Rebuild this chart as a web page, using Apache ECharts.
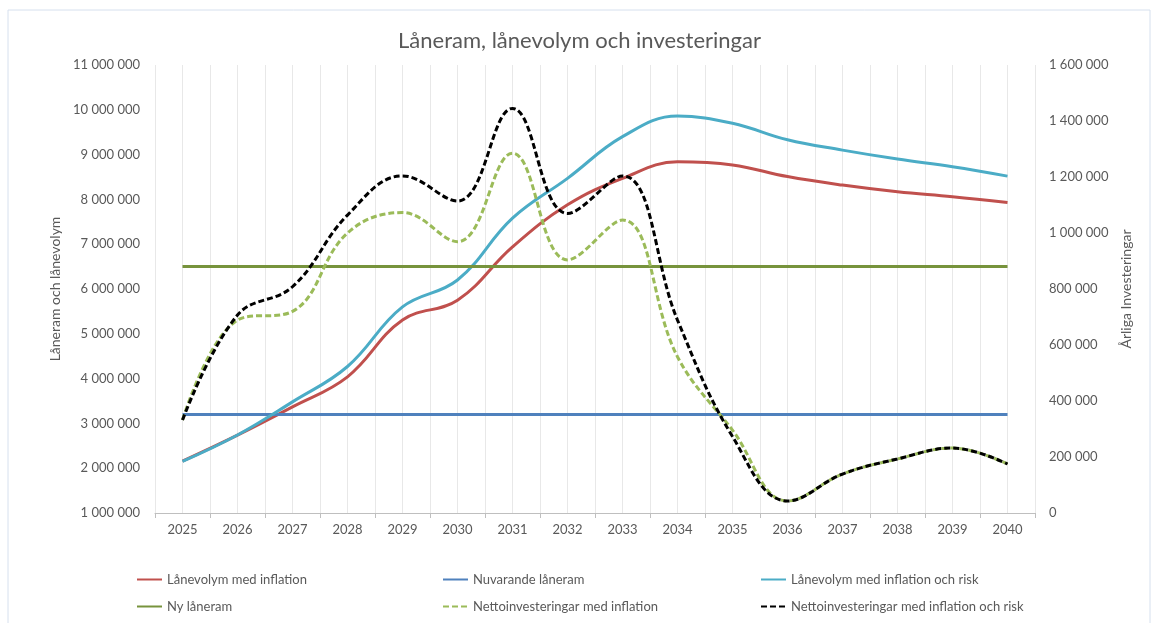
<!DOCTYPE html>
<html>
<head>
<meta charset="utf-8">
<script src="https://cdn.jsdelivr.net/npm/echarts@6/dist/echarts.min.js"></script>
<style>
  html, body { margin: 0; padding: 0; background: #fff; }
  #main { width: 1159px; height: 623px; }
</style>
</head>
<body>
<div id="main"></div>
<script>
// år
var years = ['2025', '2026', '2027', '2028', '2029', '2030', '2031', '2032',
  '2033', '2034', '2035', '2036', '2037', '2038', '2039', '2040']

// vänster axel (låneram / lånevolym)
var lanevolymInfl = [2160000, 2740000, 3370000, 4040000, 5310000, 5750000, 6940000, 7880000,
  8470000, 8840000, 8770000, 8510000, 8320000, 8170000, 8060000, 7930000]
var nuvarandeLaneram = [3200000, 3200000, 3200000, 3200000, 3200000, 3200000, 3200000, 3200000,
  3200000, 3200000, 3200000, 3200000, 3200000, 3200000, 3200000, 3200000]
var lanevolymRisk = [2150000, 2740000, 3480000, 4270000, 5600000, 6200000, 7580000, 8470000,
  9400000, 9860000, 9700000, 9330000, 9100000, 8900000, 8730000, 8520000]
var nyLaneram = [6500000, 6500000, 6500000, 6500000, 6500000, 6500000, 6500000, 6500000,
  6500000, 6500000, 6500000, 6500000, 6500000, 6500000, 6500000, 6500000]

// höger axel (årliga investeringar)
var nettoInfl = [332000, 689000, 720000, 1000000, 1073000, 969000, 1285000, 904000,
  1046000, 558000, 296000, 43000, 139000, 193000, 232000, 175000]
var nettoRisk = [332000, 707000, 808000, 1064000, 1204000, 1114000, 1445000, 1070000,
  1204000, 689000, 273000, 43000, 139000, 193000, 232000, 175000]

var txt = '#595959'
var font = 'Lato, "Open Sans", sans-serif'

function fmt(v) {
  return String(v).replace(/\B(?=(\d{3})+(?!\d))/g, ' ')
}

var chart = echarts.init(document.getElementById('main'))

// gemensam stil för de tre legendkolumnerna
function legendCol(left, names) {
  return {
    left: left, top: 568, orient: 'vertical',
    itemWidth: 25, itemHeight: 14, itemGap: 14,
    itemStyle: { opacity: 0 },   // bara linjen, ingen cirkel
    textStyle: { color: txt, fontSize: 13 },
    data: names
  }
}

var option = {
  backgroundColor: '#fff',
  textStyle: { fontFamily: font },
  title: {
    text: 'Låneram, lånevolym och investeringar',
    left: 'center',
    top: 25,
    textStyle: { color: txt, fontSize: 22, fontWeight: 'normal', fontFamily: font }
  },
  graphic: [{
    type: 'rect',
    shape: { x: 8, y: 10, width: 1142, height: 620 },
    style: { fill: 'none', stroke: '#d6e0ee', lineWidth: 1 },
    silent: true
  }],
  grid: { left: 155, right: 124, top: 65, bottom: 110 },
  legend: [
    legendCol(131, ['Lånevolym med inflation', 'Ny låneram']),
    legendCol(437, ['Nuvarande låneram', 'Nettoinvesteringar med inflation']),
    legendCol(755, ['Lånevolym med inflation och risk', 'Nettoinvesteringar med inflation och risk'])
  ],
  xAxis: [{
    type: 'category',
    data: years,
    boundaryGap: true,
    axisLine: { lineStyle: { color: '#bfbfbf', width: 1 } },
    axisTick: { show: true, length: 5, lineStyle: { color: '#bfbfbf' } },
    axisLabel: { color: txt, fontSize: 13, margin: 10 },
    splitLine: { show: false }
  }, {
    // stödlinjer varje halv kategori, som i Excel
    type: 'value',
    min: 0, max: 32, interval: 1,
    position: 'bottom',
    axisLine: { show: false },
    axisTick: { show: false },
    axisLabel: { show: false },
    splitLine: { show: true, lineStyle: { color: '#e8e8e8', width: 1 } }
  }],
  yAxis: [{
    type: 'value',
    min: 1000000, max: 11000000, interval: 1000000,
    name: 'Låneram och lånevolym',
    nameLocation: 'middle',
    nameGap: 86,
    nameRotate: 90,
    nameTextStyle: { color: txt, fontSize: 14 },
    axisLine: { show: false },
    axisTick: { show: false },
    splitLine: { show: false },
    axisLabel: { color: txt, fontSize: 13, margin: 15, formatter: fmt }
  }, {
    type: 'value',
    min: 0, max: 1600000, interval: 200000,
    name: 'Årliga Investeringar',
    nameLocation: 'middle',
    nameGap: 84,
    nameRotate: 90,
    nameTextStyle: { color: txt, fontSize: 14 },
    axisLine: { show: false },
    axisTick: { show: false },
    splitLine: { show: false },
    axisLabel: { color: txt, fontSize: 13, margin: 14, formatter: fmt }
  }],
  series: [{
    name: 'Lånevolym med inflation',
    type: 'line', yAxisIndex: 0, data: lanevolymInfl,
    smooth: 0.4, symbol: 'none',
    lineStyle: { color: '#C0504D', width: 3 }, itemStyle: { color: '#C0504D' }
  }, {
    name: 'Nuvarande låneram',
    type: 'line', yAxisIndex: 0, data: nuvarandeLaneram,
    symbol: 'none',
    lineStyle: { color: '#4F81BD', width: 3 }, itemStyle: { color: '#4F81BD' }
  }, {
    name: 'Lånevolym med inflation och risk',
    type: 'line', yAxisIndex: 0, data: lanevolymRisk,
    smooth: 0.4, symbol: 'none',
    lineStyle: { color: '#4BACC6', width: 3 }, itemStyle: { color: '#4BACC6' }
  }, {
    name: 'Ny låneram',
    type: 'line', yAxisIndex: 0, data: nyLaneram,
    symbol: 'none',
    lineStyle: { color: '#77933C', width: 3 }, itemStyle: { color: '#77933C' }
  }, {
    name: 'Nettoinvesteringar med inflation',
    type: 'line', yAxisIndex: 1, data: nettoInfl,
    smooth: 0.4, symbol: 'none',
    lineStyle: { color: '#9BBB59', width: 3, type: [6, 3] }, itemStyle: { color: '#9BBB59' }
  }, {
    name: 'Nettoinvesteringar med inflation och risk',
    type: 'line', yAxisIndex: 1, data: nettoRisk,
    smooth: 0.4, symbol: 'none',
    lineStyle: { color: '#000000', width: 3, type: [6, 3] }, itemStyle: { color: '#000000' }
  }]
}

chart.setOption(option)
</script>
</body>
</html>
